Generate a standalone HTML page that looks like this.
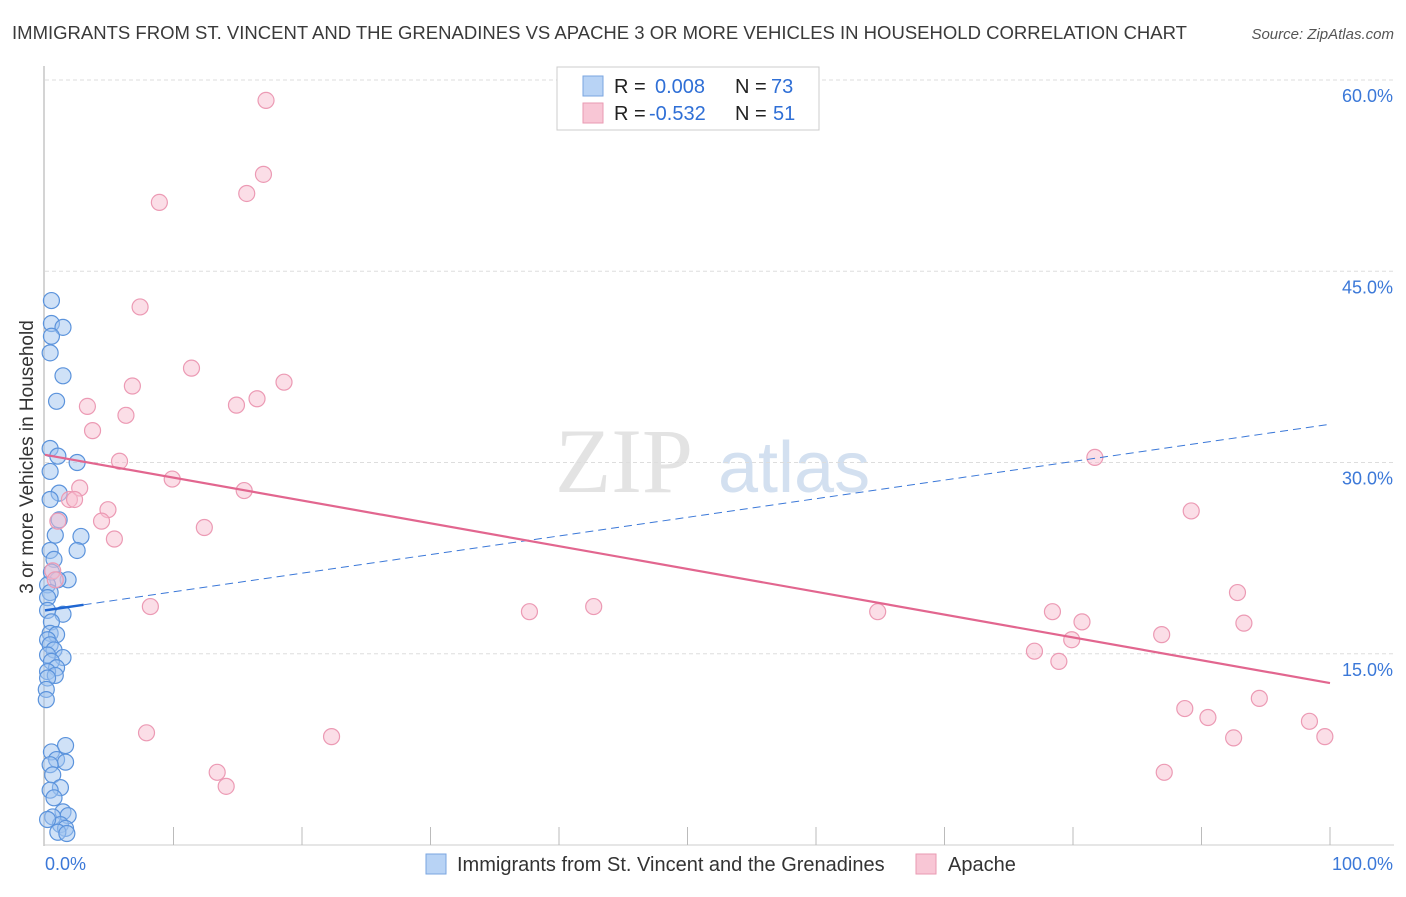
<!DOCTYPE html>
<html><head><meta charset="utf-8"><style>
body{margin:0;background:#fff;font-family:"Liberation Sans",sans-serif;}
</style></head><body>
<svg id="c" width="1406" height="892" xmlns="http://www.w3.org/2000/svg">
<text x="12" y="39" font-size="18.4" fill="#3a3a3a" textLength="1175" lengthAdjust="spacingAndGlyphs">IMMIGRANTS FROM ST. VINCENT AND THE GRENADINES VS APACHE 3 OR MORE VEHICLES IN HOUSEHOLD CORRELATION CHART</text>
<text x="1394" y="39" font-size="15" fill="#555" font-style="italic" text-anchor="end">Source: ZipAtlas.com</text>
<text x="0" y="0" transform="translate(33,457) rotate(-90)" font-size="19" fill="#333" text-anchor="middle">3 or more Vehicles in Household</text>
<g><text x="555" y="492" font-size="92" font-family="Liberation Serif,serif" fill="#e3e3e3">ZIP</text><text x="718" y="492" font-size="72" fill="#d3e0f0">atlas</text></g>
<g id="grid"></g><g id="pts"></g><g id="lines"></g>
<g>
<rect x="557" y="67" width="262" height="63" fill="#fff" stroke="#ccc"/>
<rect x="583" y="76" width="20" height="20" fill="#b8d3f5" stroke="#7aa6e0"/>
<rect x="583" y="103" width="20" height="20" fill="#f8c6d5" stroke="#e99ab2"/>
<text x="614" y="93" font-size="20" fill="#222">R = <tspan x="655" fill="#2f6fd6">0.008</tspan><tspan x="735">N = </tspan><tspan x="771" fill="#2f6fd6">73</tspan></text>
<text x="614" y="120" font-size="20" fill="#222">R = <tspan x="649" fill="#2f6fd6">-0.532</tspan><tspan x="735">N = </tspan><tspan x="773" fill="#2f6fd6">51</tspan></text>
</g>
<g>
<rect x="426" y="854" width="20" height="20" fill="#b8d3f5" stroke="#7aa6e0"/>
<text x="457" y="871" font-size="20" fill="#333">Immigrants from St. Vincent and the Grenadines</text>
<rect x="916" y="854" width="20" height="20" fill="#f8c6d5" stroke="#e99ab2"/>
<text x="948" y="871" font-size="20" fill="#333">Apache</text>
</g>
<text x="45" y="870" font-size="18" fill="#3b78d8">0.0%</text>
<text x="1393" y="870" font-size="18" fill="#3b78d8" text-anchor="end">100.0%</text>
</svg>
<script>
const yTicks=[15,30,45,60];
const xTicks=[0,10,20,30,40,50,60,70,80,90,100];
const blueX=[0.5,0.5,1.4,0.5,0.4,1.4,0.9,0.4,1.0,2.5,0.4,1.1,0.4,1.1,0.8,2.8,2.5,0.4,0.7,0.5,1.8,1.0,0.2,0.4,0.2,1.4,0.2,0.5,0.4,0.9,0.2,0.4,0.7,0.2,1.4,0.5,0.9,0.2,0.8,0.2,1.6,0.5,0.9,1.6,0.4,0.6,1.2,0.4,0.7,1.4,1.8,0.6,1.2,1.6,1.0,1.7,0.2,0.1,0.1];
const blueY=[42.7,40.9,40.6,39.9,38.6,36.8,34.8,31.1,30.5,30.0,29.3,27.6,27.1,25.5,24.3,24.2,23.1,23.1,22.4,21.4,20.8,20.8,20.4,19.8,19.4,18.1,18.4,17.5,16.6,16.5,16.1,15.7,15.3,14.9,14.7,14.4,13.9,13.6,13.3,13.1,7.8,7.3,6.7,6.5,6.3,5.5,4.5,4.3,3.7,2.6,2.3,2.2,1.6,1.3,1.0,0.9,2.0,12.2,11.4];
const pinkX=[17.2,17.0,15.7,8.9,7.4,11.4,6.8,18.6,14.9,16.5,3.3,6.3,3.7,5.8,9.9,15.5,2.7,1.9,2.3,4.9,4.4,1.0,5.4,12.4,0.6,0.8,8.2,37.7,42.7,64.8,81.7,89.2,92.8,78.4,80.7,93.3,77.0,79.9,86.9,78.9,94.5,88.7,90.5,98.4,92.5,99.6,7.9,22.3,13.4,14.1,87.1];
const pinkY=[58.4,52.6,51.1,50.4,42.2,37.4,36.0,36.3,34.5,35.0,34.4,33.7,32.5,30.1,28.7,27.8,28.0,27.1,27.1,26.3,25.4,25.4,24.0,24.9,21.5,20.8,18.7,18.3,18.7,18.3,30.4,26.2,19.8,18.3,17.5,17.4,15.2,16.1,16.5,14.4,11.5,10.7,10.0,9.7,8.4,8.5,8.8,8.5,5.7,4.6,5.7];
const blueTrend=[18.4,33.0];
const pinkTrend=[30.6,12.7];
const NS="http://www.w3.org/2000/svg";
const X=v=>45+v*12.85, Y=v=>845-v*12.75;
function mk(t,a,p){const e=document.createElementNS(NS,t);for(const k in a)e.setAttribute(k,a[k]);p.appendChild(e);return e;}
const g=document.getElementById('grid');
mk('line',{x1:44,y1:66,x2:44,y2:846,stroke:'#aaa'},g);
mk('line',{x1:44,y1:845,x2:1394,y2:845,stroke:'#ccc'},g);
yTicks.forEach(t=>{
const l=mk('line',{x1:45,y1:Y(t),x2:1394,y2:Y(t),stroke:'#ddd','stroke-dasharray':'4,3'},g);


const tx=mk('text',{x:1393,y:Y(t)+22,'font-size':18,fill:'#3b78d8','text-anchor':'end'},g);
tx.textContent=t.toFixed(1)+'%';


});
xTicks.forEach(t=>{if(t===0)return;
const l=mk('line',{x1:X(t),y1:827,x2:X(t),y2:845,stroke:'#bbb'},g);


});
const p=document.getElementById('pts');
blueX.forEach((v,i)=>{
const c=mk('circle',{cx:X(v),cy:Y(blueY[i]),r:8,fill:'rgba(160,195,240,0.5)',stroke:'#5b93dc','stroke-width':1.2},p);


});
pinkX.forEach((v,i)=>{
const c=mk('circle',{cx:X(v),cy:Y(pinkY[i]),r:8,fill:'rgba(248,190,208,0.5)',stroke:'#ec9ab4','stroke-width':1.2},p);


});
const L=document.getElementById('lines');
const bs=v=>blueTrend[0]+(blueTrend[1]-blueTrend[0])*v/100;
const b1=mk('line',{x1:X(0),y1:Y(bs(0)),x2:X(100),y2:Y(bs(100)),stroke:'#3b78d8','stroke-width':1,'stroke-dasharray':'8,5'},L);


const b2=mk('line',{x1:X(0),y1:Y(bs(0)),x2:X(3),y2:Y(bs(3)),stroke:'#1f66d1','stroke-width':2.5},L);


const pl=mk('line',{x1:X(0),y1:Y(pinkTrend[0]),x2:X(100),y2:Y(pinkTrend[1]),stroke:'#e2668f','stroke-width':2.2},L);


</script>
</body></html>
